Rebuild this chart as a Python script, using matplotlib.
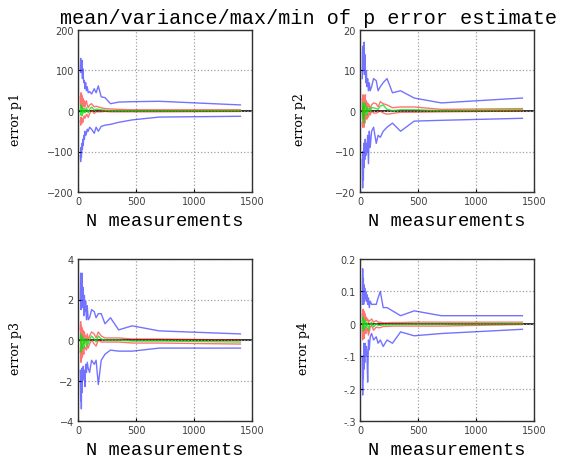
import matplotlib
matplotlib.use("Agg")
import matplotlib.pyplot as plt

# measurement counts (shared by all four panels)
n_meas = [20, 23, 26, 29, 32, 35, 38, 41, 45, 50, 55, 60, 66, 73, 80, 88,
          100, 117, 140, 156, 175, 200, 233, 280, 350, 467, 700, 1400]

# p1
max_p1 = [100, 130, 95, 120, 110, 125, 80, 105, 90, 70, 75, 55, 70, 50, 60, 45,
          48, 42, 55, 45, 62, 35, 33, 18, 22, 23, 24, 15]
min_p1 = [-110, -125, -90, -115, -100, -80, -95, -70, -85, -60, -70, -50, -60, -55, -45, -50,
          -40, -45, -55, -40, -50, -38, -35, -33, -28, -22, -15, -13]
mean_p1 = [5, -10, 15, -5, 10, -12, 8, -6, 5, -3, 6, -4, 3, 8, 2, -5,
           4, 10, 2, 5, 4, 3, 2, 1, 1, 0.5, 0.5, 1]
hi_p1 = [35, 10, 45, 20, 40, 5, 35, 15, 30, 10, 25, 10, 20, 25, 15, 8,
         15, 18, 10, 12, 10, 8, 6, 5, 4, 3, 3, 3]
lo_p1 = [-25, -35, -15, -30, -20, -30, -20, -28, -18, -16, -12, -18, -14, -8, -10, -16,
         -7, 2, -6, -2, -2, -2, -1, -2, -2, -2, -2, -1]

# p2
max_p2 = [8, 16, 12, 15, 10, 17, 9, 14, 11, 7, 10, 6, 8, 5, 7, 5,
          6, 8, 7.5, 5, 6, 7, 8, 4.5, 5, 3.2, 2, 3.2]
min_p2 = [-12, -19, -10, -17, -8, -14, -9, -12, -7, -11, -8, -10, -6, -13, -5, -9,
          -5, -4, -8, -6, -6.5, -5, -4, -3, -5, -2.5, -2.3, -1.8]
mean_p2 = [0, -2, 2, -1, 1.5, -3, 1, 0, 2, -0.5, 1, -1, 0.7, 0, 0.8, -0.2,
           0.8, 0.8, 0.6, 0.4, 1.2, 1.5, 0.4, 0.1, 0.3, 0.3, 0.1, 0.3]
hi_p2 = [3, -1, 4, 1, 3.5, -2, 3, 2, 4, 1, 2.5, 0, 2, 1, 1.5, 0.5,
         1.5, 2, 1.8, 1, 2.3, 1.8, 1.5, 0.8, 1, 1, 0.4, 0.6]
lo_p2 = [-3, -4, 1, -3, 0, -4, -1, -3, 0, -2, -1, -2, -0.5, -1.5, 0, -1,
         0, -0.5, -0.5, -0.3, 0, -0.5, -0.8, -0.6, -0.3, -0.3, -0.2, 0]

# p3
max_p3 = [2.0, 3.3, 1.5, 3.0, 1.8, 3.3, 2.0, 1.6, 2.6, 1.2, 2.2, 1.4, 1.9, 1.0, 1.7, 1.0,
          1.1, 1.5, 1.4, 1.1, 1.3, 1.3, 0.8, 1.1, 0.5, 0.7, 0.45, 0.3]
min_p3 = [-1.5, -3.0, -1.8, -3.4, -1.4, -2.6, -1.6, -2.0, -1.3, -1.9, -1.5, -2.3, -1.2, -1.6, -1.1, -1.4,
          -1.6, -1.0, -1.2, -1.0, -2.2, -1.0, -0.7, -0.5, -0.55, -0.55, -0.4, -0.4]
mean_p3 = [0.0, 0.3, -0.6, 0.2, -0.4, 0.2, -0.4, 0.1, -0.1, -0.4, 0.1, -0.1, -0.1, -0.3, 0.05, -0.2,
           0.0, 0.2, 0.05, -0.1, 0.2, 0.05, 0.0, 0.0, 0.0, -0.05, -0.05, -0.1]
hi_p3 = [0.5, 0.9, -0.2, 0.7, 0.1, 0.6, 0.0, 0.5, 0.3, -0.2, 0.4, 0.2, 0.2, -0.1, 0.3, 0.0,
         0.2, 0.4, 0.3, 0.1, 0.4, 0.2, 0.1, 0.1, 0.1, 0.05, 0.05, 0.0]
lo_p3 = [-0.6, -0.3, -1.1, -0.4, -0.9, -0.2, -0.8, -0.4, -0.5, -0.7, -0.3, -0.4, -0.4, -0.5, -0.2, -0.4,
         -0.2, 0.0, -0.2, -0.3, 0.0, -0.1, -0.1, -0.1, -0.1, -0.15, -0.15, -0.2]

# p4
max_p4 = [0.06, 0.17, 0.08, 0.14, 0.06, 0.12, 0.07, 0.11, 0.08, 0.10, 0.07, 0.09, 0.06, 0.08, 0.05, 0.07,
          0.06, 0.06, 0.06, 0.08, 0.10, 0.05, 0.05, 0.04, 0.025, 0.04, 0.025, 0.025]
min_p4 = [-0.10, -0.22, -0.12, -0.17, -0.06, -0.14, -0.08, -0.12, -0.06, -0.10, -0.07, -0.09, -0.18, -0.05, -0.08, -0.04,
          -0.03, -0.05, -0.04, -0.06, -0.05, -0.07, -0.05, -0.06, -0.025, -0.037, -0.03, -0.017]
mean_p4 = [0.01, -0.02, 0.02, -0.01, 0.015, -0.02, 0.01, 0.0, 0.01, -0.01, 0.005, -0.005, 0.0, -0.02, -0.01, 0.0,
           0.005, -0.01, 0.0, -0.005, -0.005, -0.003, -0.003, -0.002, -0.002, -0.001, -0.001, 0.0]
hi_p4 = [0.03, 0.01, 0.045, 0.02, 0.04, 0.0, 0.035, 0.02, 0.03, 0.01, 0.02, 0.01, 0.015, 0.0, 0.01, 0.01,
         0.015, 0.005, 0.01, 0.005, 0.005, 0.003, 0.003, 0.004, 0.004, 0.005, 0.005, 0.005]
lo_p4 = [-0.01, -0.05, 0.0, -0.04, -0.01, -0.045, -0.015, -0.02, -0.01, -0.03, -0.01, -0.02, -0.015, -0.035, -0.025, -0.01,
         -0.005, -0.02, -0.01, -0.012, -0.012, -0.008, -0.008, -0.007, -0.007, -0.007, -0.007, -0.002]

panels = [
    ("error p1", max_p1, min_p1, mean_p1, hi_p1, lo_p1, (-200, 200), [-200, -100, 0, 100, 200], None),
    ("error p2", max_p2, min_p2, mean_p2, hi_p2, lo_p2, (-20, 20), [-20, -10, 0, 10, 20], None),
    ("error p3", max_p3, min_p3, mean_p3, hi_p3, lo_p3, (-4, 4), [-4, -2, 0, 2, 4], None),
    ("error p4", max_p4, min_p4, mean_p4, hi_p4, lo_p4, (-0.3, 0.2), [-0.3, -0.2, -0.1, 0, 0.1, 0.2],
     ["-.3", "-.2", "-.1", "0", "0.1", "0.2"]),
]

W, H = 572, 460
fig = plt.figure(figsize=(W / 100, H / 100), dpi=100)
fig.patch.set_facecolor("white")

# axes boxes in pixels: left, top
boxes = [(78, 31), (360, 31), (78, 260), (360, 260)]
aw, ah = 174, 162
mono = "Liberation Mono"
serif = "DejaVu Serif"

for (name, mx, mn, mean, hi, lo, ylim, yt, ytl), (l, t), lab_x in zip(panels, boxes, [16, 300, 16, 304]):
    ax = fig.add_axes([l / W, 1 - (t + ah) / H, aw / W, ah / H])
    ax.axhline(0, color="#303030", lw=1.4, zorder=1)
    ax.plot(n_meas, mx, color="blue", alpha=0.55, lw=1, zorder=2)
    ax.plot(n_meas, mn, color="blue", alpha=0.55, lw=1, zorder=2)
    ax.plot(n_meas, hi, color="red", alpha=0.55, lw=1, zorder=3)
    ax.plot(n_meas, lo, color="red", alpha=0.55, lw=1, zorder=3)
    ax.plot(n_meas, mean, color="#10e010", alpha=0.8, lw=1, zorder=4)
    ax.set_xlim(0, 1500)
    ax.set_ylim(*ylim)
    ax.set_xticks([0, 500, 1000, 1500])
    ax.set_yticks(yt)
    if ytl:
        ax.set_yticklabels(ytl)
    ax.grid(True, linestyle=":", color="#a0a0a0", lw=0.9)
    ax.tick_params(labelsize=7, labelcolor="#404040", length=2, direction="in", pad=3)
    for s in ax.spines.values():
        s.set_color("#303030")
        s.set_linewidth(1)
    ax.set_xlabel("N measurements", fontfamily=mono, fontsize=13.5, labelpad=4)
    fig.text(lab_x / W, 1 - (t + 89) / H, name, rotation=90, ha="center", va="center",
             fontfamily=serif, fontsize=9)

fig.text(309 / W, 1 - 18 / H, "mean/variance/max/min of p error estimate",
         ha="center", va="center", fontfamily=mono, fontsize=14.5)

fig.savefig("out.png", dpi=100)
